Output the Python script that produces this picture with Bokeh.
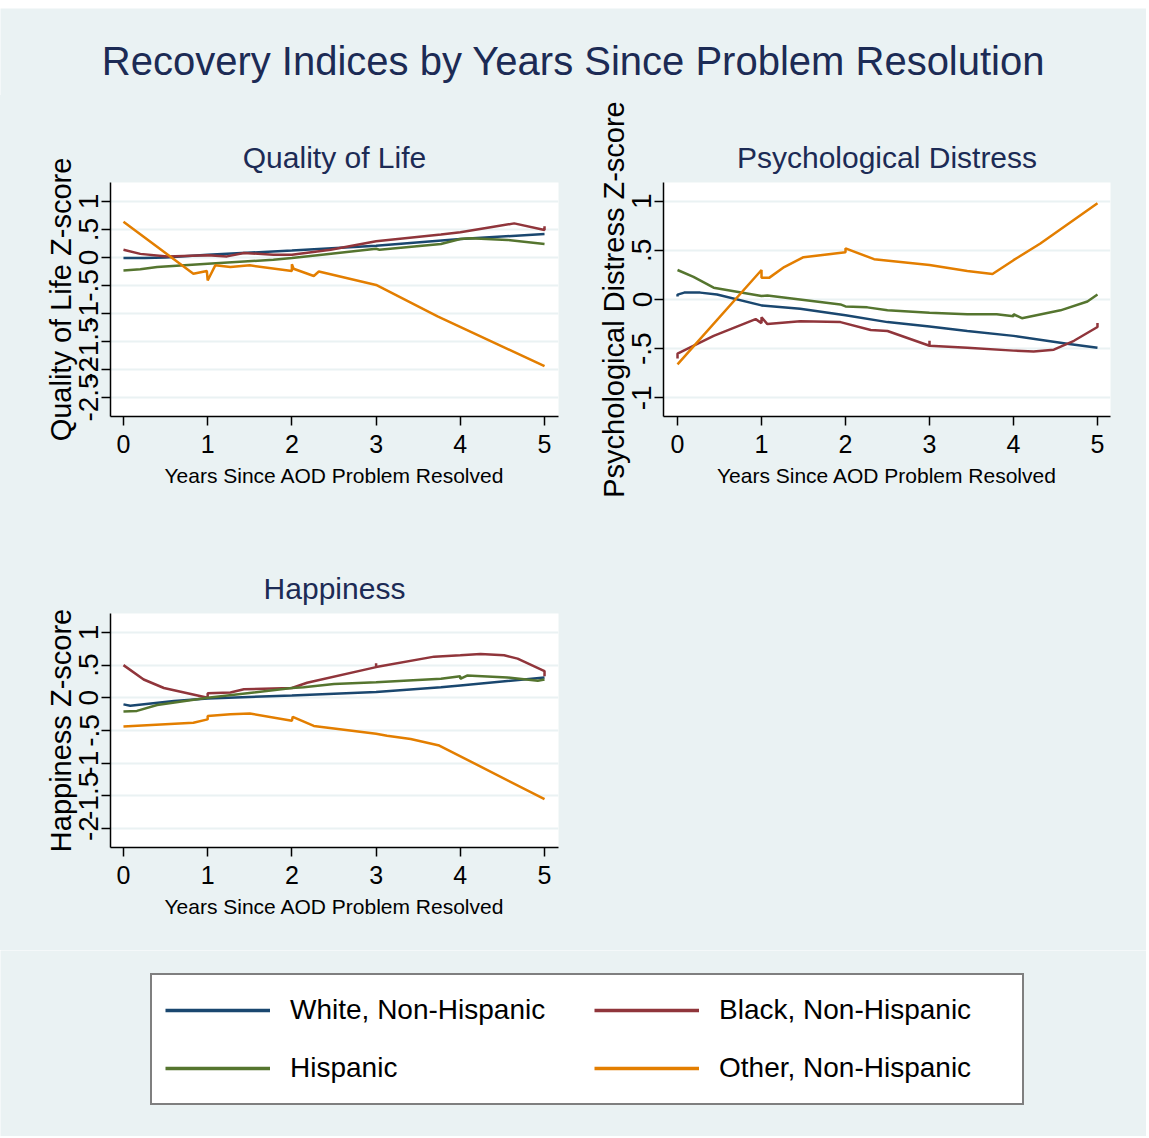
from bokeh.plotting import figure
from bokeh.layouts import column, row
from bokeh.models import FixedTicker, CustomJSTickFormatter, Range1d, Legend, LegendItem, Spacer
from bokeh.embed import file_html
from bokeh.resources import INLINE
from bokeh.core.properties import value

BG = "#EAF2F3"
TITLE_C = "#1C2B55"
FONT = "'Liberation Sans', Arial, Helvetica, sans-serif"

main_title = "Recovery Indices by Years Since Problem Resolution"
x_title = "Years Since AOD Problem Resolved"
series_labels = ["White, Non-Hispanic", "Black, Non-Hispanic", "Hispanic", "Other, Non-Hispanic"]
series_colors = ["#1A476F", "#90353B", "#55752F", "#E37E00"]
x_ticks = [0, 1, 2, 3, 4, 5]
qol_y_ticks = [-2.5, -2, -1.5, -1, -0.5, 0, 0.5, 1]
pd_y_ticks = [-1, -0.5, 0, 0.5, 1]
hap_y_ticks = [-2, -1.5, -1, -0.5, 0, 0.5, 1]

# ---- Quality of Life ----
qol_white_x = [0, 0.25, 0.5, 1, 2, 3, 4, 5]
qol_white_y = [-0.01, -0.01, 0.0, 0.05, 0.125, 0.21, 0.33, 0.42]
qol_black_x = [0, 0.2, 0.52, 1, 1.23, 1.43, 1.78, 2, 2.46, 3, 3.77, 4, 4.36, 4.64, 5, 5]
qol_black_y = [0.14, 0.065, 0.02, 0.04, 0.02, 0.08, 0.05, 0.05, 0.14, 0.29, 0.41, 0.45, 0.54, 0.61, 0.49, 0.56]
qol_hisp_x = [0, 0.2, 0.4, 1, 1.78, 2, 3, 3.04, 3.77, 4, 4.12, 4.56, 5]
qol_hisp_y = [-0.23, -0.21, -0.17, -0.11, -0.04, -0.01, 0.155, 0.14, 0.24, 0.33, 0.345, 0.315, 0.24]
qol_other_x = [0, 0.83, 0.99, 1.0, 1.09, 1.27, 1.5, 2.0, 2.0, 2.02, 2.26, 2.32, 3.0, 3.73, 5.0]
qol_other_y = [0.64, -0.29, -0.24, -0.41, -0.14, -0.17, -0.14, -0.24, -0.12, -0.2, -0.33, -0.25, -0.49, -1.05, -1.94]

# ---- Psychological Distress ----
pd_white_x = [0, 0, 0.08, 0.27, 0.47, 1, 1.46, 2, 2.5, 3, 3.45, 4, 4.64, 5]
pd_white_y = [0.03, 0.05, 0.07, 0.07, 0.05, -0.06, -0.095, -0.16, -0.23, -0.275, -0.32, -0.37, -0.45, -0.49]
pd_black_x = [0, 0, 0.43, 0.93, 1.0, 1.0, 1.07, 1.46, 1.94, 2.3, 2.5, 3.0, 3.0, 3.0, 3.45, 4, 4.24, 4.48, 4.72, 5, 5]
pd_black_y = [-0.6, -0.55, -0.37, -0.2, -0.24, -0.18, -0.25, -0.22, -0.23, -0.31, -0.32, -0.47, -0.42, -0.47, -0.49, -0.52, -0.53, -0.51, -0.42, -0.28, -0.24]
pd_hisp_x = [0, 0.19, 0.43, 1, 1.07, 1.94, 2, 2.26, 2.5, 3, 3.45, 3.8, 4, 4.0, 4.1, 4.56, 4.88, 5]
pd_hisp_y = [0.3, 0.23, 0.12, 0.035, 0.04, -0.05, -0.07, -0.08, -0.11, -0.135, -0.15, -0.15, -0.17, -0.15, -0.19, -0.11, -0.02, 0.05]
pd_other_x = [0, 1.0, 1.0, 1.09, 1.27, 1.5, 2.0, 2.0, 2.34, 3.0, 3.45, 3.75, 4.0, 4.32, 5.0]
pd_other_y = [-0.66, 0.3, 0.22, 0.22, 0.33, 0.43, 0.48, 0.52, 0.41, 0.35, 0.29, 0.26, 0.40, 0.57, 0.98]

# ---- Happiness ----
hap_white_x = [0, 0.08, 0.6, 1, 2, 3, 3.77, 4, 5]
hap_white_y = [-0.10, -0.12, -0.05, -0.01, 0.035, 0.09, 0.16, 0.19, 0.31]
hap_black_x = [0, 0.24, 0.48, 1.0, 1.0, 1.27, 1.43, 2.0, 2.18, 3.0, 3.0, 3.0, 3.69, 4.0, 4.24, 4.52, 4.68, 5.0, 5.0]
hap_black_y = [0.5, 0.28, 0.15, 0.0, 0.07, 0.08, 0.13, 0.15, 0.23, 0.47, 0.53, 0.47, 0.63, 0.65, 0.67, 0.65, 0.6, 0.41, 0.33]
hap_hisp_x = [0, 0.16, 0.4, 1, 2, 2.14, 2.5, 3, 3.77, 4, 4.0, 4.08, 4.56, 4.92, 5]
hap_hisp_y = [-0.21, -0.2, -0.11, 0.0, 0.15, 0.16, 0.21, 0.24, 0.29, 0.33, 0.29, 0.34, 0.31, 0.26, 0.28]
hap_other_x = [0, 0.83, 1.0, 1.0, 1.27, 1.5, 2.0, 2.01, 2.26, 3.0, 3.13, 3.41, 3.75, 5.0]
hap_other_y = [-0.44, -0.38, -0.33, -0.28, -0.25, -0.24, -0.35, -0.29, -0.43, -0.55, -0.58, -0.63, -0.73, -1.55]

fmt = CustomJSTickFormatter(code="return tick.toString().replace(/^(-?)0\\./, '$1.');")


def blank(width, height):
    p = figure(width=width, height=height, x_range=Range1d(0, 1), y_range=Range1d(0, 1),
               output_backend="svg", toolbar_location=None,
               x_axis_location=None, y_axis_location=None,
               min_border=0)
    p.grid.visible = False
    p.outline_line_color = None
    p.border_fill_color = BG
    p.background_fill_color = BG
    return p


def panel(title, ytitle, yticks, xr, yr, series, width, height, mbl, mbr, mbt, mbb):
    p = figure(width=width, height=height, x_range=Range1d(*xr), y_range=Range1d(*yr),
               output_backend="svg", toolbar_location=None, title=title,
               min_border_left=mbl, min_border_right=mbr, min_border_top=mbt, min_border_bottom=mbb)
    p.border_fill_color = BG
    p.background_fill_color = "white"
    p.outline_line_color = None
    p.title.align = "center"
    p.title.text_font = FONT
    p.title.text_font_size = "30px"
    p.title.text_font_style = "normal"
    p.title.text_color = TITLE_C
    p.title.standoff = 17
    for ax in (p.xaxis[0], p.yaxis[0]):
        ax.axis_line_color = "black"
        ax.axis_line_width = 1.5
        ax.major_tick_line_color = "black"
        ax.major_tick_line_width = 1.5
        ax.major_tick_out = 9
        ax.major_tick_in = 0
        ax.minor_tick_line_color = None
        ax.axis_label_text_font_style = "normal"
        ax.axis_label_text_color = "black"
        ax.major_label_text_color = "black"
    xa = p.xaxis[0]
    xa.ticker = FixedTicker(ticks=x_ticks)
    xa.major_label_text_font = FONT
    xa.major_label_text_font_size = "25px"
    xa.axis_label = x_title
    xa.axis_label_text_font = FONT
    xa.axis_label_text_font_size = "21px"
    xa.major_label_standoff = 9
    xa.axis_label_standoff = 8
    ya = p.yaxis[0]
    ya.ticker = FixedTicker(ticks=yticks)
    ya.formatter = fmt
    ya.major_label_orientation = "vertical"
    ya.major_label_text_font = FONT
    ya.major_label_text_font_size = "28px"
    ya.axis_label = ytitle
    ya.axis_label_text_font = FONT
    ya.axis_label_text_font_size = "29px"
    ya.major_label_standoff = 3
    ya.axis_label_standoff = 0
    p.xgrid.visible = False
    p.ygrid.grid_line_color = BG
    p.ygrid.grid_line_width = 2
    for (xs, ys), c in zip(series, series_colors):
        p.line(xs, ys, line_color=c, line_width=2.5)
    return p


W = 1146
# title figure
tf = blank(W, 87)
tf.text(x=[0.5], y=[0.40], text=[main_title], text_align="center", text_baseline="middle",
        text_font=value(FONT), text_font_size="40px", text_color=TITLE_C)

qol_series = [(qol_white_x, qol_white_y), (qol_black_x, qol_black_y), (qol_hisp_x, qol_hisp_y), (qol_other_x, qol_other_y)]
pd_series = [(pd_white_x, pd_white_y), (pd_black_x, pd_black_y), (pd_hisp_x, pd_hisp_y), (pd_other_x, pd_other_y)]
hap_series = [(hap_white_x, hap_white_y), (hap_black_x, hap_black_y), (hap_hisp_x, hap_hisp_y), (hap_other_x, hap_other_y)]

qol = panel("Quality of Life", "Quality of Life Z-score", qol_y_ticks, (-0.154, 5.166), (-2.84, 1.34),
            qol_series, 573, 425, 110, 15, 87, 104)
pdp = panel("Psychological Distress", "Psychological Distress Z-score", pd_y_ticks, (-0.167, 5.155), (-1.19, 1.19),
            pd_series, 573, 425, 90, 36, 87, 104)
hap = panel("Happiness", "Happiness Z-score", hap_y_ticks, (-0.154, 5.166), (-2.29, 1.29),
            hap_series, 573, 430, 110, 15, 93, 103)
filler = blank(573, 430)

# legend figure (legend samples reuse the Quality of Life series on a range kept out of view)
lf = blank(W, 186)
lf.extra_y_ranges = {"offview": Range1d(100, 101)}
items = []
for lab, c, (xs, ys) in zip(series_labels, series_colors, qol_series):
    r = lf.line(x=xs, y=ys, line_color=c, line_width=3.5, y_range_name="offview")
    items.append(LegendItem(label=lab, renderers=[r]))
leg = Legend(items=items, orientation="horizontal", ncols=2, location=(150, 31),
             border_line_color="black", border_line_width=2,
             background_fill_color="white", background_fill_alpha=1.0,
             label_text_font=FONT, label_text_font_size="28px", label_text_color="black",
             glyph_width=105, glyph_height=44, label_height=44, label_width=290,
             label_standoff=20, spacing=14, padding=13, margin=0)
lf.add_layout(leg, "center")

rs = {"background-color": BG}
layout = column(Spacer(height=8, width=W), tf,
                row(qol, pdp, styles=rs), row(hap, filler, styles=rs), lf)
open("out.html", "w").write(file_html(layout, INLINE))
